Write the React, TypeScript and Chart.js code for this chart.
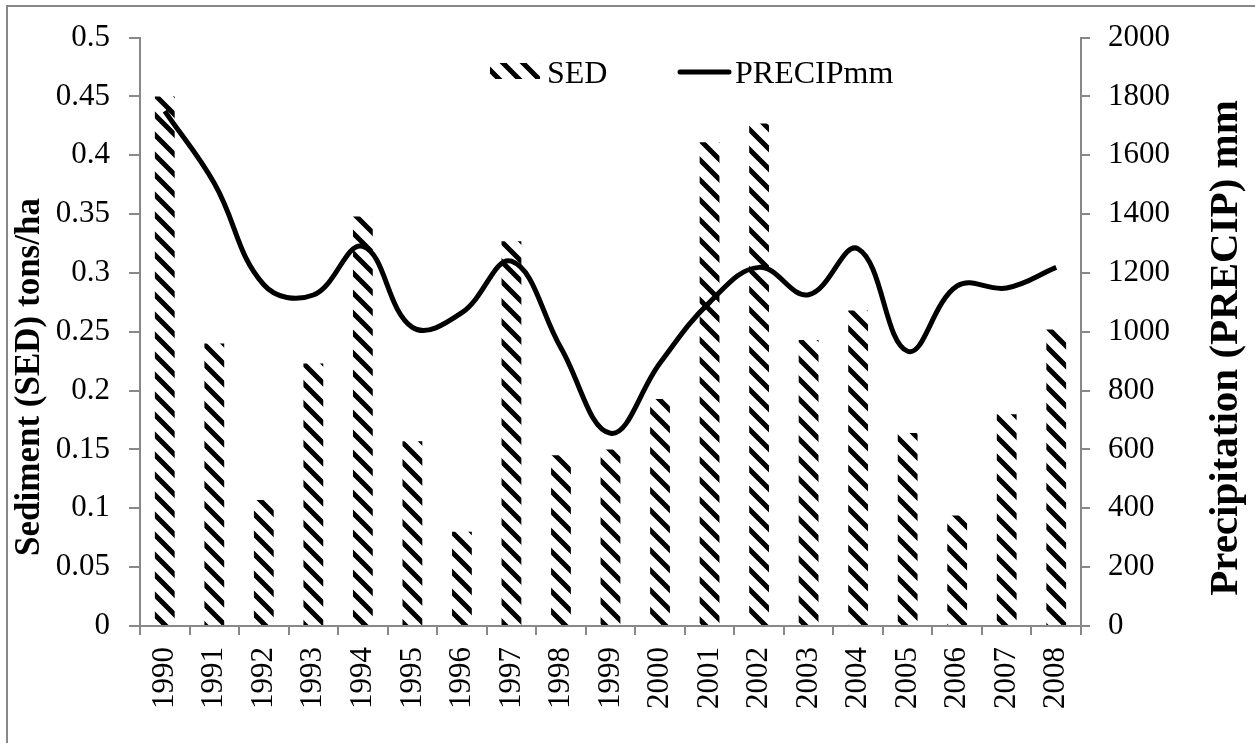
import React, { useEffect, useRef } from "react";
import { Chart, registerables } from "chart.js";

Chart.register(...registerables);

const years = ["1990", "1991", "1992", "1993", "1994", "1995", "1996", "1997", "1998", "1999", "2000", "2001", "2002", "2003", "2004", "2005", "2006", "2007", "2008"];
const sedValues = [0.45, 0.24, 0.107, 0.223, 0.348, 0.157, 0.08, 0.327, 0.145, 0.15, 0.193, 0.411, 0.427, 0.243, 0.268, 0.164, 0.094, 0.18, 0.252];
const precipValues = [1750, 1505, 1160, 1125, 1290, 1015, 1065, 1240, 945, 655, 894, 1100, 1219, 1126, 1282, 934, 1156, 1149, 1219];
const sedTicks = [0, 0.05, 0.1, 0.15, 0.2, 0.25, 0.3, 0.35, 0.4, 0.45, 0.5];
const precipTicks = [0, 200, 400, 600, 800, 1000, 1200, 1400, 1600, 1800, 2000];
const sedLabel = "SED";
const precipLabel = "PRECIPmm";
const leftTitle = "Sediment (SED) tons/ha";
const rightTitle = "Precipitation (PRECIP) mm";

const FONT = '"Liberation Serif", "Times New Roman", serif';
const W = 1255;
const H = 743;

Chart.defaults.font.family = FONT;
Chart.defaults.font.size = 31;

function makePattern(): CanvasPattern | string {
  const c = document.createElement("canvas");
  c.width = 20;
  c.height = 20;
  const p = c.getContext("2d");
  if (!p) return "#000";
  p.fillStyle = "#fff";
  p.fillRect(0, 0, 20, 20);
  p.strokeStyle = "#000";
  p.lineWidth = 5;
  p.beginPath();
  for (let k = -2; k <= 2; k++) {
    p.moveTo(-10, -10 + 20 * k);
    p.lineTo(30, 30 + 20 * k);
  }
  p.stroke();
  const pat = p.createPattern(c, "repeat");
  return pat || "#000";
}

export default function App() {
  const ref = useRef<HTMLCanvasElement | null>(null);

  useEffect(() => {
    const canvas = ref.current;
    if (!canvas) return;
    const pattern = makePattern();

    const overlay = {
      id: "overlay",
      afterDraw(chart: any) {
        const ctx = chart.ctx as CanvasRenderingContext2D;
        ctx.save();
        // legend
        ctx.fillStyle = pattern as any;
        ctx.fillRect(490, 63, 50, 16);
        ctx.fillStyle = "#000";
        ctx.font = `32px ${FONT}`;
        ctx.textAlign = "left";
        ctx.textBaseline = "alphabetic";
        ctx.fillText(sedLabel, 547, 83);
        ctx.strokeStyle = "#000";
        ctx.lineWidth = 5;
        ctx.lineCap = "round";
        ctx.beginPath();
        ctx.moveTo(680, 72);
        ctx.lineTo(729, 72);
        ctx.stroke();
        ctx.fillText(precipLabel, 735, 83);
        // axis titles
        ctx.textAlign = "center";
        ctx.textBaseline = "middle";
        ctx.font = `bold 35px ${FONT}`;
        ctx.save();
        ctx.translate(30, 377);
        ctx.rotate(-Math.PI / 2);
        ctx.fillText(leftTitle, 0, 0);
        ctx.restore();
        ctx.font = `bold 41px ${FONT}`;
        ctx.save();
        ctx.translate(1226, 348);
        ctx.rotate(-Math.PI / 2);
        ctx.fillText(rightTitle, 0, 0);
        ctx.restore();
        ctx.restore();
      },
    };

    const tickFont = { family: FONT, size: 31 };

    const chart = new Chart(canvas, {
      type: "bar",
      data: {
        labels: years,
        datasets: [
          {
            type: "line",
            label: precipLabel,
            data: precipValues,
            yAxisID: "y1",
            borderColor: "#000",
            borderWidth: 5,
            pointRadius: 0,
            tension: 0.4,
            fill: false,
            order: 0,
          } as any,
          {
            type: "bar",
            label: sedLabel,
            data: sedValues,
            yAxisID: "y",
            backgroundColor: pattern as any,
            borderWidth: 0,
            barPercentage: 0.4,
            categoryPercentage: 1,
            order: 1,
          } as any,
        ],
      },
      options: {
        animation: false,
        responsive: false,
        maintainAspectRatio: false,
        layout: { padding: { top: 24, left: 0, right: 0, bottom: 0 } },
        plugins: {
          legend: { display: false },
          tooltip: { enabled: false },
        },
        scales: {
          x: {
            type: "category",
            offset: true,
            grid: {
              display: true,
              drawOnChartArea: false,
              drawTicks: true,
              tickLength: 9,
              color: "#888",
              lineWidth: 2,
              offset: true,
            },
            border: { display: true, color: "#888", width: 2 },
            ticks: {
              font: tickFont,
              color: "#000",
              minRotation: 90,
              maxRotation: 90,
              padding: 12,
              autoSkip: false,
            },
            afterFit: (s: any) => {
              s.height = 117;
            },
          },
          y: {
            type: "linear",
            position: "left",
            min: 0,
            max: 0.5,
            afterBuildTicks: (s: any) => {
              s.ticks = sedTicks.map((v) => ({ value: v }));
            },
            ticks: {
              font: tickFont,
              color: "#000",
              padding: 19,
              callback: (v: any) => String(Number(Number(v).toFixed(2))),
            },
            grid: {
              display: true,
              drawOnChartArea: false,
              drawTicks: true,
              tickLength: 11,
              color: "#888",
              lineWidth: 2,
            },
            border: { display: true, color: "#888", width: 2 },
            afterFit: (s: any) => {
              s.width = 140;
            },
          },
          y1: {
            type: "linear",
            position: "right",
            min: 0,
            max: 2000,
            afterBuildTicks: (s: any) => {
              s.ticks = precipTicks.map((v) => ({ value: v }));
            },
            ticks: {
              font: tickFont,
              color: "#000",
              padding: 18,
              callback: (v: any) => String(v),
            },
            grid: {
              display: true,
              drawOnChartArea: false,
              drawTicks: true,
              tickLength: 9,
              color: "#888",
              lineWidth: 2,
            },
            border: { display: true, color: "#888", width: 2 },
            afterFit: (s: any) => {
              s.width = 174;
            },
          },
        },
      },
      plugins: [overlay],
    });

    return () => {
      chart.destroy();
    };
  }, []);

  return (
    <div style={{ position: "fixed", left: 0, top: 0, width: W, height: H, background: "#fff", overflow: "hidden" }}>
      <canvas ref={ref} width={W} height={H} style={{ position: "absolute", left: 0, top: 0, width: W, height: H }} />
      <div
        style={{
          position: "absolute",
          left: 6,
          top: 5,
          width: W,
          height: H,
          borderTop: "2px solid #888",
          borderLeft: "2px solid #888",
          boxSizing: "border-box",
          pointerEvents: "none",
        }}
      />
    </div>
  );
}
